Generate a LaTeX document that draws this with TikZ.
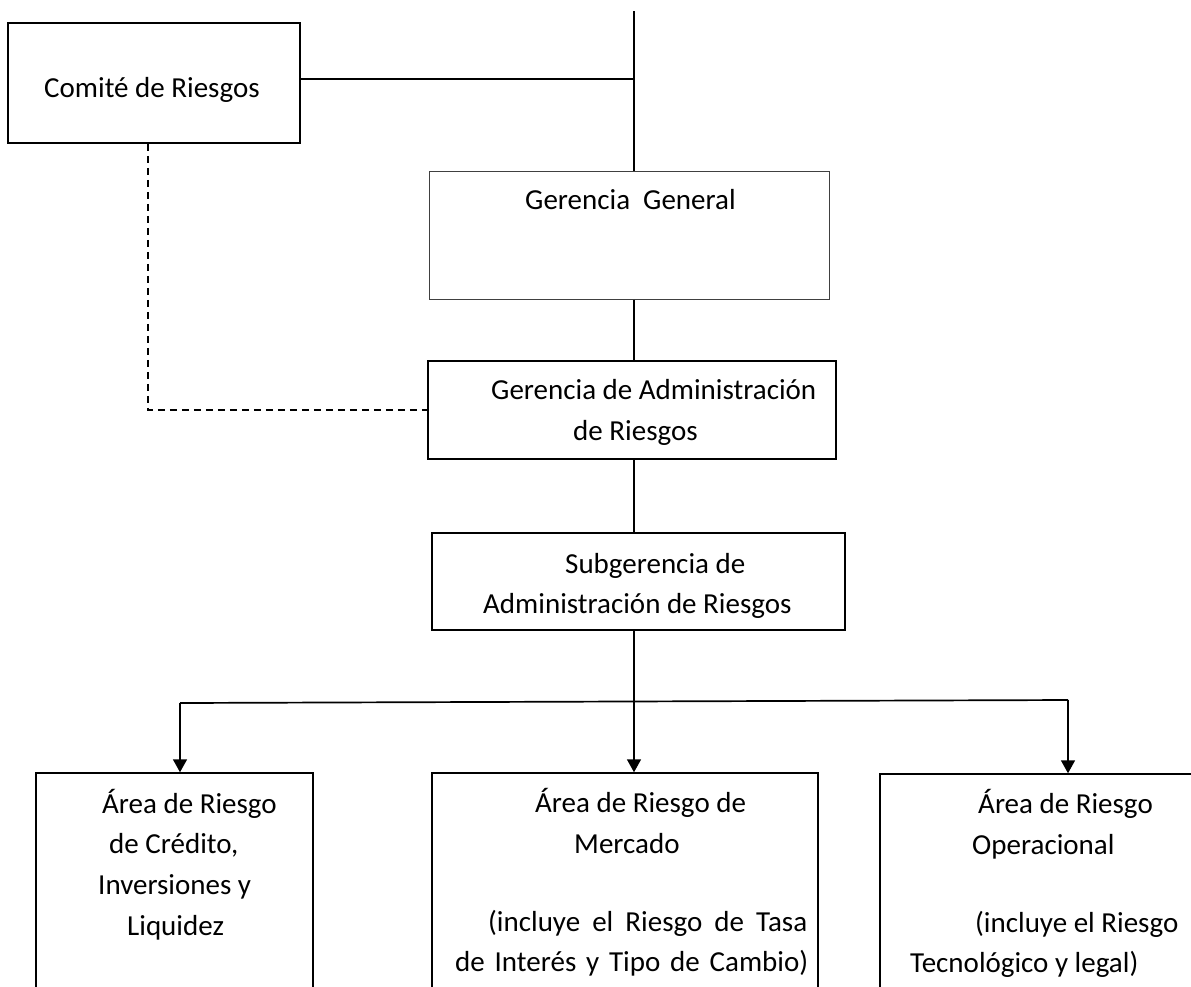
\documentclass[tikz,border=0pt]{standalone}
\usepackage{fontspec}
\setmainfont{Carlito}
\usetikzlibrary{arrows.meta}
\begin{document}
\begin{tikzpicture}[x=1pt,y=-1pt,
  box/.style={draw,line width=1.5pt,rectangle,inner sep=0pt},
  thinbox/.style={draw=black!75,line width=1pt,rectangle,inner sep=0pt},
  txt/.style={anchor=base west,inner sep=0pt,font=\fontsize{29}{35}\selectfont},
  link/.style={line width=1.7pt},
  dlink/.style={line width=1.5pt,dash pattern=on 7pt off 5pt},
  arr/.style={line width=1.7pt,-{Triangle[width=14pt,length=13pt]}}]
\useasboundingbox (0,0) rectangle (1191,986);
\clip (0,0) rectangle (1191,986);

% boxes
\node[box,minimum width=292pt,minimum height=120pt] (comite) at (154,83) {};
\node[thinbox,minimum width=400pt,minimum height=128pt] (gg) at (629,235) {};
\node[box,minimum width=408pt,minimum height=98pt] (gar) at (632,410) {};
\node[box,minimum width=413pt,minimum height=97pt] (sar) at (638.5,581.5) {};
\node[box,minimum width=277pt,minimum height=240pt] (a1) at (174.5,893) {};
\node[box,minimum width=386pt,minimum height=240pt] (a2) at (625,893) {};
\node[box,minimum width=400pt,minimum height=240pt] (a3) at (1080,894) {};

% texts
\node[txt] at (44,97) {Comité de Riesgos};
\node[txt] at (525,209) {Gerencia\ \ General};
\node[txt] at (491,399) {Gerencia de Administración};
\node[txt] at (573,440) {de Riesgos};
\node[txt] at (565,573) {Subgerencia de};
\node[txt] at (483,613) {Administración de Riesgos};
\node[txt] at (102,813) {Área de Riesgo};
\node[txt] at (109,853) {de Crédito,};
\node[txt] at (98,894) {Inversiones y};
\node[txt] at (127,935) {Liquidez};
\node[txt] at (535,812) {Área de Riesgo de};
\node[txt] at (574,853) {Mercado};
\node[txt] at (488,931) {\makebox[319pt][s]{(incluye el Riesgo de Tasa}};
\node[txt] at (455,971) {\makebox[353pt][s]{de Interés y Tipo de Cambio)}};
\node[txt] at (978,813) {Área de Riesgo};
\node[txt] at (972,854) {Operacional};
\node[txt] at (975,932) {(incluye el Riesgo};
\node[txt] at (910,972) {Tecnológico y legal)};

% connectors
\coordinate (top) at (634,11);
\coordinate (j1) at (634,79);
\coordinate (d1) at (148,410);
\coordinate (bl) at (180,703);
\coordinate (br) at (1068,700);

\draw[link] (top) -- (gg.north -| top);
\draw[link] (comite.east |- j1) -- (j1);
\draw[link] (gg.south -| top) -- (gar.north -| top);
\draw[link] (gar.south -| top) -- (sar.north -| top);
\draw[dlink] (comite.south -| d1) -- (d1) -- (gar.west |- d1);
\draw[arr] (sar.south -| top) -- (a2.north -| top);
\draw[link] (bl) -- (br);
\draw[arr] (bl) -- (a1.north -| bl);
\draw[arr] (br) -- (a3.north -| br);
\end{tikzpicture}
\end{document}
